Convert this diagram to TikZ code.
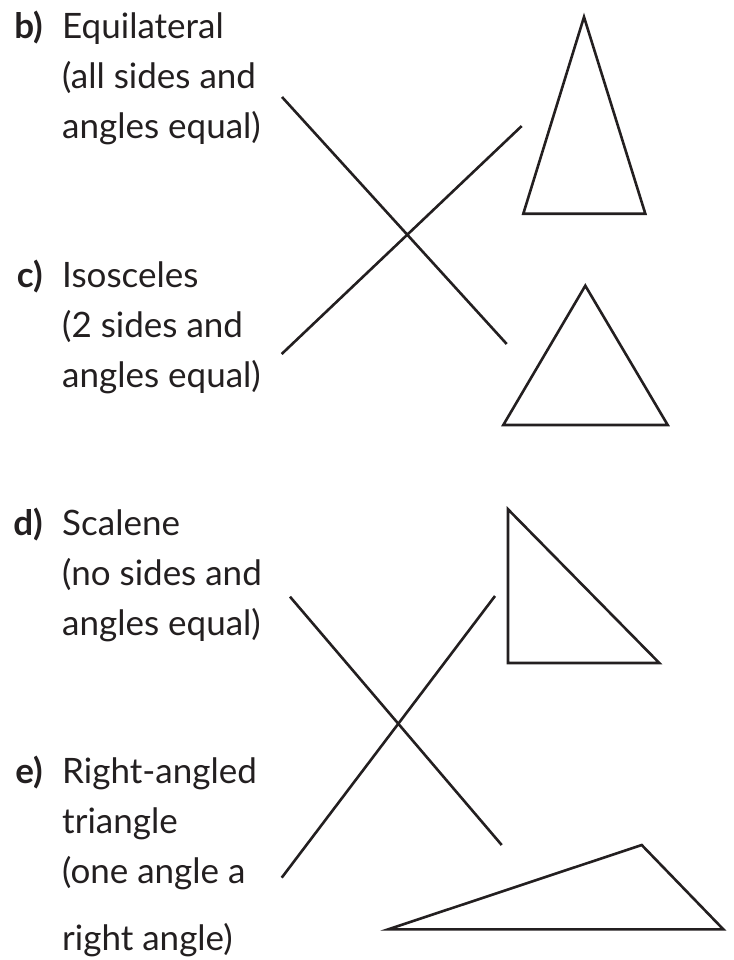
\documentclass[tikz,border=0pt]{standalone}
\usepackage{fontspec}
\setmainfont{Lato}
\usetikzlibrary{positioning}
\definecolor{ink}{HTML}{231F20}
\tikzstyle{tag} = [anchor=base east, inner sep=0pt, text=ink,
    font=\fontsize{35}{50}\selectfont\bfseries]
\tikzstyle{desc} = [anchor=base west, inner sep=0pt, align=left, text=ink,
    font=\fontsize{35}{50}\selectfont]
\tikzstyle{tri} = [draw=ink, line width=2.6pt, line join=miter]
\tikzstyle{link} = [draw=ink, line width=2.6pt]

\begin{document}
\begin{tikzpicture}[x=1pt, y=-1pt]
\useasboundingbox (0,0) rectangle (733,960);

% names of the triangles (base = last line)
\node (btag) [tag] at (43,39) {b)};
\node (bdesc) [desc] at (62,139) {Equilateral\\(all sides and\\angles equal)};
\node (ctag) [tag] at (43,287) {c)};
\node (cdesc) [desc] at (62,387) {Isosceles\\(2 sides and\\angles equal)};
\node (dtag) [tag] at (43,535) {d)};
\node (ddesc) [desc] at (62,635) {Scalene\\(no sides and\\angles equal)};
\node (etag) [tag] at (43,783) {e)};
\node (edesc) [desc] at (62,950) {Right-angled\\triangle\\(one angle a\\[17pt]right angle)};

% triangles
\coordinate (iso1) at (584,17);
\coordinate (iso2) at (523.3,213.7);
\coordinate (iso3) at (645.3,213.7);
\coordinate (equ1) at (585.3,285.7);
\coordinate (equ2) at (503.3,425);
\coordinate (equ3) at (667.7,425);
\coordinate (rig1) at (508,509.3);
\coordinate (rig2) at (508,663);
\coordinate (rig3) at (659.3,663);
\coordinate (sca1) at (641.7,845);
\coordinate (sca2) at (388.3,929.3);
\coordinate (sca3) at (723.3,929.3);
\draw[tri] (iso1) -- (iso2) -- (iso3) -- cycle;
\draw[tri] (equ1) -- (equ2) -- (equ3) -- cycle;
\draw[tri] (rig1) -- (rig2) -- (rig3) -- cycle;
\draw[tri] (sca1) -- (sca2) -- (sca3) -- cycle;

% matching lines
\coordinate (bfrom) at (282,97);
\coordinate (bto) at (506.7,344);
\coordinate (cfrom) at (281.7,354);
\coordinate (cto) at (521.7,126);
\coordinate (dfrom) at (290,596.7);
\coordinate (dto) at (501.7,845);
\coordinate (efrom) at (281.7,877.7);
\coordinate (eto) at (495,596);
\draw[link] (bfrom) -- (bto);
\draw[link] (cfrom) -- (cto);
\draw[link] (dfrom) -- (dto);
\draw[link] (efrom) -- (eto);
\end{tikzpicture}
\end{document}
